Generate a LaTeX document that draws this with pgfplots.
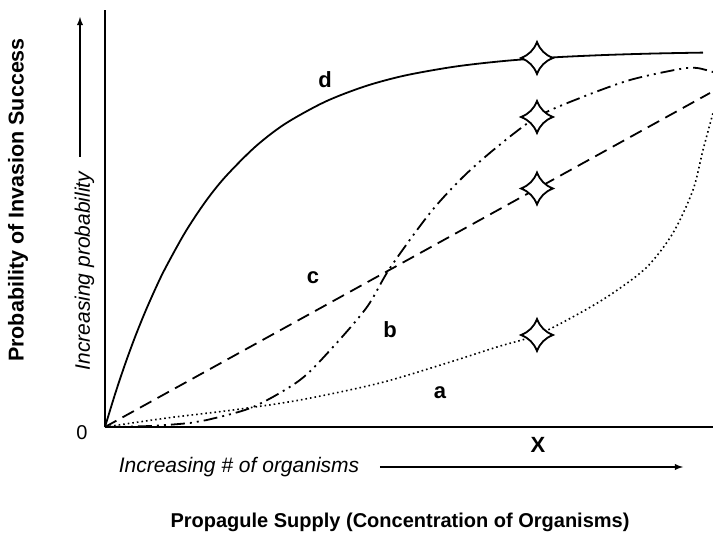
\documentclass[border=0pt]{standalone}
\usepackage{pgfplots}
\pgfplotsset{compat=1.18}
\usepackage{fontspec}
\setmainfont{Liberation Sans}
\pgfdeclareplotmark{astroid}{%
  \pgfpathmoveto{\pgfqpoint{0pt}{\pgfplotmarksize}}%
  \pgfpathcurveto{\pgfqpoint{0.2\pgfplotmarksize}{0.5\pgfplotmarksize}}{\pgfqpoint{0.5\pgfplotmarksize}{0.2\pgfplotmarksize}}{\pgfqpoint{\pgfplotmarksize}{0pt}}%
  \pgfpathcurveto{\pgfqpoint{0.5\pgfplotmarksize}{-0.2\pgfplotmarksize}}{\pgfqpoint{0.2\pgfplotmarksize}{-0.5\pgfplotmarksize}}{\pgfqpoint{0pt}{-\pgfplotmarksize}}%
  \pgfpathcurveto{\pgfqpoint{-0.2\pgfplotmarksize}{-0.5\pgfplotmarksize}}{\pgfqpoint{-0.5\pgfplotmarksize}{-0.2\pgfplotmarksize}}{\pgfqpoint{-\pgfplotmarksize}{0pt}}%
  \pgfpathcurveto{\pgfqpoint{-0.5\pgfplotmarksize}{0.2\pgfplotmarksize}}{\pgfqpoint{-0.2\pgfplotmarksize}{0.5\pgfplotmarksize}}{\pgfqpoint{0pt}{\pgfplotmarksize}}%
  \pgfpathclose
  \pgfusepathqfillstroke
}
\begin{document}
\begin{tikzpicture}
\begin{axis}[
  scale only axis, width=608pt, height=417pt,
  anchor=origin, at={(0,0)},
  xmin=0, xmax=608, ymin=0, ymax=417,
  axis x line=bottom, axis y line=left,
  axis line style={-, line width=2.2pt},
  xtick=\empty, ytick=\empty,
  clip=false,
]
% d
\addplot[black, line width=1.8pt, smooth] coordinates {
(0,0) (10,32.7) (20,62.6) (30,89.9) (40,114.7) (50,137.4) (60,158.2) (80,194.4) (100,224.7) (120,249.8) (150,280.0) (180,303.1) (220,325.2) (260,340.7) (300,351.5) (350,360.4) (400,366.1) (450,369.7) (500,372.0) (550,373.5) (598,374.4)};
% c
\addplot[black, line width=1.8pt, dash pattern=on 13pt off 7pt] coordinates {(0,0) (605,334)};
% b
\addplot[black, line width=1.8pt, smooth, dash pattern=on 14pt off 5pt on 2pt off 5pt on 2pt off 5pt] coordinates {
(0,0) (45,1) (85,4) (102,7) (148,20) (195,47) (228,80) (262,120) (285,159) (325,214) (358,250) (392,280) (432,310) (475,329) (525,347) (575,358) (592,359) (608,355)};
% a
\addplot[black, line width=1.6pt, smooth, dash pattern=on 1.6pt off 3pt] coordinates {
(0,0) (62,9) (128,17) (195,27) (275,44) (342,64) (392,80) (432,92) (475,114) (508,134) (542,160) (568,194) (588,237) (598,277) (608,314)};
% stars
\addplot[only marks, mark=astroid, mark size=16pt, mark options={fill=white, draw=black, line width=1.8pt}] coordinates {
(432,369) (432,310) (432,238.5) (432,92)};
% curve labels
\node[font=\bfseries\fontsize{22}{22}\selectfont] at (axis cs:220,347) {d};
\node[font=\bfseries\fontsize{22}{22}\selectfont] at (axis cs:208,149) {c};
\node[font=\bfseries\fontsize{22}{22}\selectfont] at (axis cs:285,97) {b};
\node[font=\bfseries\fontsize{22}{22}\selectfont] at (axis cs:335,34) {a};
\node[font=\bfseries\fontsize{22}{22}\selectfont] at (axis cs:433,-18) {X};
\node[font=\fontsize{20}{20}\selectfont] at (axis cs:-23,-6) {0};
% x annotations
\node[font=\itshape\fontsize{21}{21}\selectfont] at (axis cs:134,-40) {Increasing \# of organisms};
\draw[-latex, line width=1.8pt] (axis cs:275,-40) -- (axis cs:578,-40);
\node[font=\bfseries\fontsize{20}{20}\selectfont] at (axis cs:295,-95) {Propagule Supply (Concentration of Organisms)};
% y annotations
\node[font=\bfseries\fontsize{21.5}{21.5}\selectfont, rotate=90] at (axis cs:-87,227) {Probability of Invasion Success};
\node[font=\itshape\fontsize{21}{21}\selectfont, rotate=90] at (axis cs:-20.5,156) {Increasing probability};
\draw[-latex, line width=1.8pt] (axis cs:-25,270) -- (axis cs:-25,410);
\end{axis}
\pgfresetboundingbox
\path (-105pt,-106pt) rectangle (608pt,427pt);
\end{tikzpicture}
\end{document}
